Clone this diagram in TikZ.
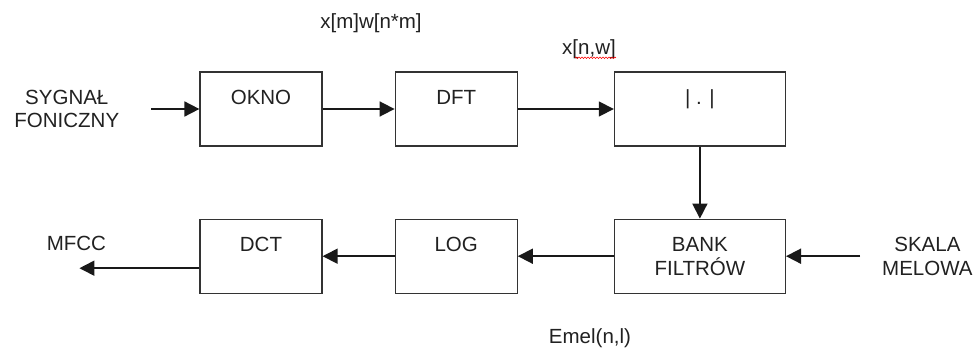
\documentclass[tikz,border=0pt]{standalone}
\usepackage{fontspec}
\setmainfont{Liberation Sans}
\usetikzlibrary{positioning,arrows.meta,decorations.pathmorphing}
\definecolor{boxcolor}{rgb}{0.2,0.2,0.2}
\definecolor{inkcolor}{rgb}{0.13,0.13,0.13}
\newcommand{\labelFont}{\fontsize{20.5}{24}\selectfont}

\begin{document}
\begin{tikzpicture}[x=1pt, y=1pt,
			block/.style={draw=boxcolor, line width=1.2pt, minimum width=122pt, minimum height=74pt, inner sep=0pt, text height=32pt, text depth=42pt, font=\labelFont, text=inkcolor, align=center},
			wide/.style={block, minimum width=171pt},
			caption/.style={font=\labelFont, text=inkcolor, align=center, inner sep=0pt},
			flow/.style={-{Triangle[length=15pt,width=15pt]}, line width=1.7pt, draw=black!90},
		]
		\useasboundingbox (0,0) rectangle (978,349);

		\node[block] (okno)	at (261,240)					{OKNO};
		\node[block] (dft)  [right=72pt of okno]			{DFT};
		\node[wide]  (abs)  [right=96pt of dft]				{| . |};
		\node[wide, text height={}, text depth={}] (bank) [below=72pt of abs]	{BANK\\FILTRÓW};
		\node[block] (log)  [left=96pt of bank]				{LOG};
		\node[block] (dct)  [left=72pt of log]				{DCT};

		\coordinate[left=48pt of okno] (in);
		\coordinate[right=74pt of bank] (mel);
		\coordinate[below left=12pt and 120pt of dct.west] (out);

		\node[caption, font=\fontsize{20.5}{23}\selectfont] (sygnal) [left=32pt of in] {SYGNAŁ\\FONICZNY};
		\node[caption] (skala) [right=22pt of mel]			{SKALA\\MELOWA};
		\node[caption] (mfcc)  [above=17pt of out, xshift=-3pt]	{MFCC};
		\node[caption] (xw)    at (371,326)					{x[m]w[n*m]};
		\node[caption] (xnw)   at (589,300)					{x[n,w]};
		\node[caption] (emel)  at (590,11)					{Emel(n,l)};

		\draw[flow] (in) -- (okno);
		\draw[flow] (okno) -- (dft);
		\draw[flow] (dft) -- (abs);
		\draw[flow] (abs) -- (bank);
		\draw[flow] (mel) -- (bank);
		\draw[flow] (bank) -- (log);
		\draw[flow] (log) -- (dct);
		\draw[flow] (dct.west |- out) -- (out);
		\draw[red, line width=0.6pt, decorate, decoration={snake, amplitude=0.8pt, segment length=3pt}] ([xshift=13pt, yshift=1pt]xnw.south west) -- ([yshift=1pt]xnw.south east);

		\end{tikzpicture}
\end{document}
